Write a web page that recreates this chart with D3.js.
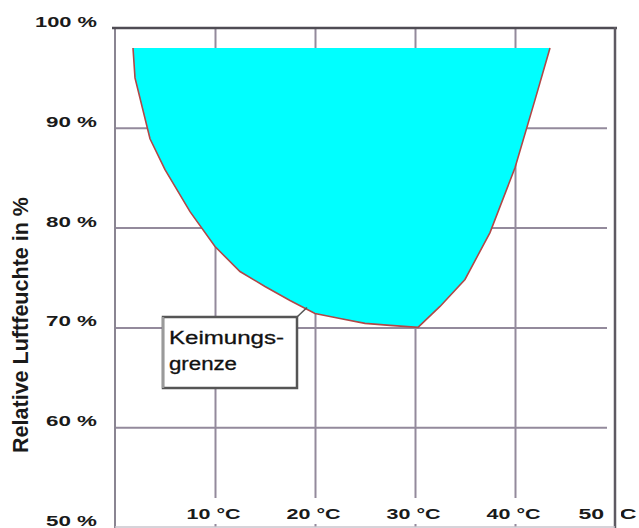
<!DOCTYPE html>
<html>
<head>
<meta charset="utf-8">
<script src="https://cdn.jsdelivr.net/npm/d3@7"></script>
<style>
  html, body { margin: 0; padding: 0; background: #fff; }
  svg { display: block; font-family: "Liberation Sans", Arial, sans-serif; }
</style>
</head>
<body>
<svg id="chart" width="639" height="528"></svg>
<script>
// ---- data ----
const tempTicks = [10, 20, 30, 40, 50];
const tempTickLabels = ["10 °C", "20 °C", "30 °C", "40 °C", "50 °C"];
const humTicks = [50, 60, 70, 80, 90, 100];
const humTickLabels = ["50 %", "60 %", "70 %", "80 %", "90 %", "100 %"];
const curveTemp = [1.8, 2.0, 3.5, 5, 7.5, 10, 12.5, 15, 17.5, 20, 22.5, 25, 27.5, 30.3, 32.5, 35, 37.5, 40, 42, 43.5];
const curveHum  = [98, 95, 88.9, 85.8, 81.6, 78.1, 75.6, 74.1, 72.7, 71.4, 70.9, 70.4, 70.2, 70.0, 72.1, 74.8, 79.5, 86.0, 92.8, 98];
const yTitle = "Relative Luftfeuchte in %";
const noteLines = ["Keimungs-", "grenze"];
const noteAnchor = {t: 19.2, h: 72.0};

// ---- scales ----
const svg = d3.select("#chart");
const x = d3.scaleLinear().domain([0, 50]).range([115, 615]);
const y = d3.scaleLinear().domain([50, 100]).range([527, 28]);
const gridColor = "#938a9c";

// horizontal gridlines
const gy = svg.append("g").attr("transform", `translate(${x(0)},0)`)
  .call(d3.axisLeft(y).tickValues(humTicks.filter(d => d > 50 && d < 100))
    .tickSize(-(x(50) - x(0) - 8)).tickFormat(""));
gy.select(".domain").remove();
gy.selectAll("line").attr("stroke", gridColor).attr("stroke-width", 2);

// vertical gridlines
const gx = svg.append("g").attr("transform", `translate(0,${y(50)})`)
  .call(d3.axisBottom(x).tickValues(tempTicks.filter(d => d < 50))
    .tickSize(-(y(50) - y(100))).tickFormat(""));
gx.select(".domain").remove();
gx.selectAll("line").attr("stroke", gridColor).attr("stroke-width", 2);

// area + curve
const pts = curveTemp.map((t, i) => [x(t), y(curveHum[i])]);
const line = d3.line().curve(d3.curveLinear);
svg.append("path").attr("d", line(pts) + "Z")
  .attr("fill", "#00ffff").attr("stroke", "none");
svg.append("path").attr("d", line(pts))
  .attr("fill", "none").attr("stroke", "#b04848").attr("stroke-width", 1.6);

// white band behind x labels
svg.append("rect").attr("x", x(0) + 2).attr("y", 498).attr("width", 639 - x(0)).attr("height", 26).attr("fill", "#fff");

// x labels
const xl = svg.append("g").attr("transform", `translate(0,519)`)
  .call(d3.axisBottom(x).tickValues(tempTicks).tickSize(0).tickPadding(0)
    .tickFormat((d, i) => tempTickLabels[i]));
xl.select(".domain").remove();
xl.selectAll("text")
  .attr("dy", 0).attr("y", 0)
  .attr("dx", d => d === 50 ? -8 : -2)
  .attr("fill", "#1a1a1a")
  .attr("font-size", 15).attr("font-weight", "bold")
  .attr("font-family", "Liberation Sans, Arial, sans-serif")
  .attr("textLength", d => d === 50 ? 58 : 54).attr("lengthAdjust", "spacingAndGlyphs");

// mask around right frame at label level
svg.append("rect").attr("x", 606).attr("y", 498).attr("width", 15).attr("height", 30).attr("fill", "#fff");

// y labels
const yl = svg.append("g").attr("transform", `translate(97,0)`)
  .call(d3.axisLeft(y).tickValues(humTicks).tickSize(0).tickPadding(0)
    .tickFormat((d, i) => humTickLabels[i]));
yl.select(".domain").remove();
yl.selectAll("text")
  .attr("dy", "-0.1em")
  .attr("fill", "#1a1a1a")
  .attr("font-size", 15).attr("font-weight", "bold")
  .attr("font-family", "Liberation Sans, Arial, sans-serif")
  .attr("textLength", d => d === 100 ? 62 : 51).attr("lengthAdjust", "spacingAndGlyphs");

// frame
svg.append("line").attr("x1", x(0)).attr("x2", x(0)).attr("y1", y(100)).attr("y2", 528)
  .attr("stroke", "#8a8592").attr("stroke-width", 2);
svg.append("line").attr("x1", x(0) - 3).attr("x2", x(50) + 2).attr("y1", y(100)).attr("y2", y(100))
  .attr("stroke", "#4f4c54").attr("stroke-width", 2.5);
svg.append("line").attr("x1", x(50)).attr("x2", x(50)).attr("y1", y(100) - 1).attr("y2", 528)
  .attr("stroke", "#5e5a62").attr("stroke-width", 2.5);
svg.append("line").attr("x1", x(0)).attr("x2", x(50)).attr("y1", 527).attr("y2", 527)
  .attr("stroke", "#c8c4cc").attr("stroke-width", 1.5);

// y title
svg.append("text")
  .attr("transform", `translate(28,325) scale(1.35,1) rotate(-90)`)
  .attr("text-anchor", "middle")
  .attr("font-size", 16).attr("font-weight", "bold").attr("fill", "#1a1a1a")
  .attr("textLength", 256).attr("lengthAdjust", "spacingAndGlyphs")
  .text(yTitle);

// annotation
const bx = 163, by = 317, bw = 134, bh = 71;
svg.append("line")
  .attr("x1", bx + bw).attr("y1", by)
  .attr("x2", x(noteAnchor.t)).attr("y2", y(noteAnchor.h))
  .attr("stroke", "#555").attr("stroke-width", 1.5);
svg.append("rect").attr("x", bx).attr("y", by).attr("width", bw).attr("height", bh)
  .attr("fill", "#fff").attr("stroke", "#555").attr("stroke-width", 2.5);
svg.append("line").attr("x1", bx).attr("x2", bx).attr("y1", by).attr("y2", by + bh)
  .attr("stroke", "#9a9a9a").attr("stroke-width", 2.5);
const lens = [115, 68];
noteLines.forEach((s, i) => {
  svg.append("text").attr("x", 169).attr("y", 344 + i * 26)
    .attr("font-size", 18).attr("fill", "#111")
    .attr("stroke", "#111").attr("stroke-width", 0.3)
    .attr("textLength", lens[i]).attr("lengthAdjust", "spacingAndGlyphs")
    .text(s);
});
</script>
</body>
</html>
